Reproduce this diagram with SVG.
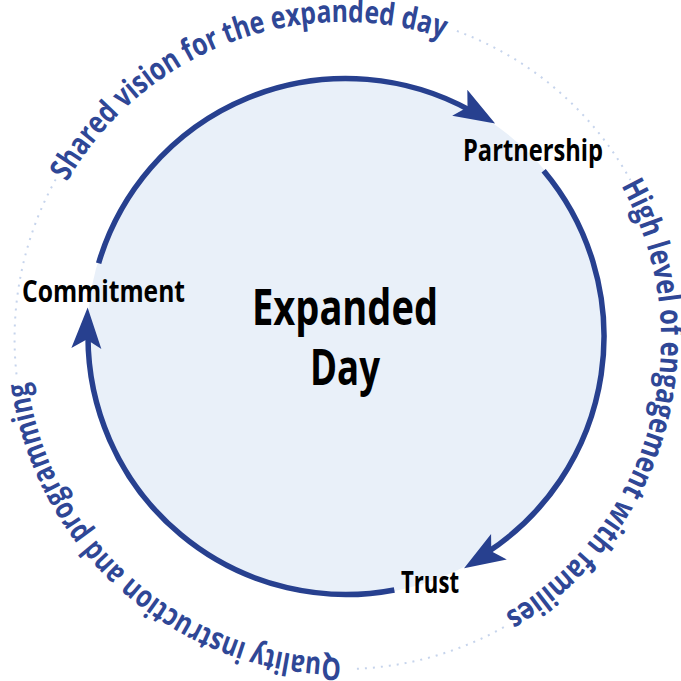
<svg xmlns="http://www.w3.org/2000/svg" xmlns:xlink="http://www.w3.org/1999/xlink" width="681" height="681" viewBox="0 0 681 681">
  <style>
    .arc { fill: none; stroke: #27408F; stroke-width: 5.5; }
    .head { fill: #27408F; }
    .dots { fill: none; stroke: #C6D4EC; stroke-width: 2; stroke-dasharray: 2 6; }
    .outer { font-family: "Open Sans", "Liberation Sans", sans-serif; font-weight: 700; font-size: 31px; fill: #2F4796; }
    .lbl { font-family: "Open Sans", "Liberation Sans", sans-serif; font-weight: 700; font-size: 30px; fill: #000; }
    .title { font-family: "Open Sans", "Liberation Sans", sans-serif; font-weight: 700; font-size: 51px; fill: #000; text-anchor: middle; }
  </style>
  <defs>
    <path id="ah" d="M0,0 L-41,-15 L-32,0 L-41,15 Z"/>
    <path id="ring" d="M25,340 A318,318 0 0 1 661,340 A318,318 0 0 1 25,340"/>
  </defs>
  <rect width="681" height="681" fill="#FFFFFF"/>

  <g id="outer-ring">
    <path class="dots" d="M16.5,374.4 A329,329 0 0 1 57.9,175.5"/>
    <path class="dots" d="M456.9,31.0 A329,329 0 0 1 630.4,180.0"/>
    <path class="dots" d="M503.8,627.2 A329,329 0 0 1 351.6,668.9"/>
    <text class="outer"><textPath xlink:href="#ring" href="#ring" startOffset="165.4" textLength="436" lengthAdjust="spacingAndGlyphs">Shared vision for the expanded day</textPath></text>
    <text class="outer"><textPath xlink:href="#ring" href="#ring" startOffset="837.5" textLength="491" lengthAdjust="spacingAndGlyphs">High level of engagement with families</textPath></text>
    <text class="outer"><textPath xlink:href="#ring" href="#ring" startOffset="1499.8" textLength="455" lengthAdjust="spacingAndGlyphs">Quality instruction and programming</textPath></text>
  </g>

  <g id="expanded-day">
    <circle cx="346" cy="336.5" r="259" fill="#E9F0F9"/>
    <text class="title" x="345" y="325" textLength="186" lengthAdjust="spacingAndGlyphs">Expanded</text>
    <text class="title" x="345" y="385" textLength="70" lengthAdjust="spacingAndGlyphs">Day</text>
  </g>

  <g id="connectors">
    <path class="arc" d="M98.62,263.22 A258,258 0 0 1 471.08,110.85"/>
    <use href="#ah" xlink:href="#ah" class="head" transform="translate(495.13,123.52) rotate(30.35)"/>
    <path class="arc" d="M543.64,170.66 A258,258 0 0 1 486.52,552.88"/>
    <use href="#ah" xlink:href="#ah" class="head" transform="translate(464.04,568.16) rotate(148.35)"/>
    <path class="arc" d="M394.34,589.93 A258,258 0 0 1 88.01,334.70"/>
    <use href="#ah" xlink:href="#ah" class="head" transform="translate(87.62,307.52) rotate(271.75)"/>
  </g>

  <g id="partnership">
    <text class="lbl" x="463" y="160.7" textLength="140" lengthAdjust="spacingAndGlyphs">Partnership</text>
  </g>
  <g id="commitment">
    <text class="lbl" x="22" y="301.7" textLength="163" lengthAdjust="spacingAndGlyphs">Commitment</text>
  </g>
  <g id="trust">
    <text class="lbl" x="401" y="593.3" textLength="58" lengthAdjust="spacingAndGlyphs">Trust</text>
  </g>
</svg>
